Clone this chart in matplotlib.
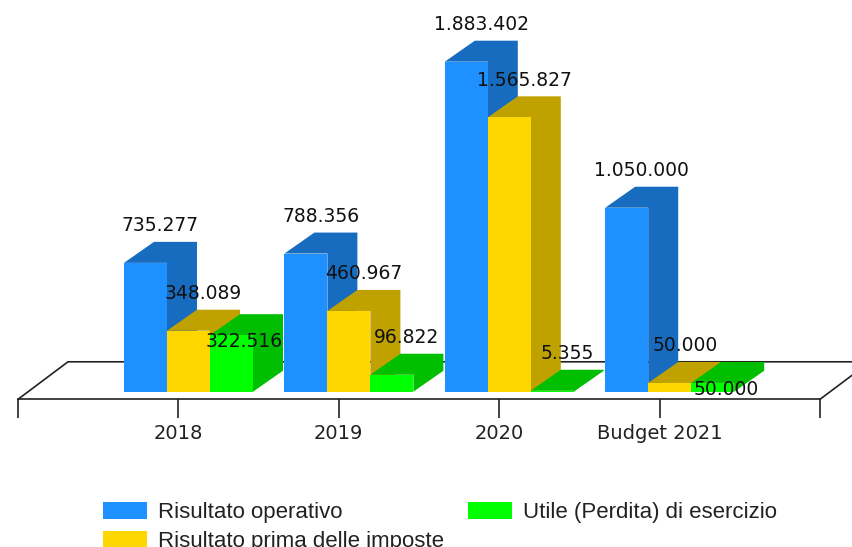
import matplotlib
matplotlib.use('Agg')
import matplotlib.pyplot as plt
from matplotlib.patches import Polygon, Patch

categories = ['2018', '2019', '2020', 'Budget 2021']
operativo = [735277, 788356, 1883402, 1050000]
ante_imposte = [348089, 460967, 1565827, 50000]
utile = [322516, 96822, 5355, 50000]
labels_serie = ['Risultato operativo', 'Risultato prima delle imposte', 'Utile (Perdita) di esercizio']
fronts = ['#1E90FF', '#FFD700', '#00FF00']
sides = ['#176CBF', '#BFA100', '#00BF00']

W, H = 852, 547
px_u = 160.4      # pixels per category
px_v = 1 / 5707   # pixels per unit of value
base_py = 391.7

def du(px):
    return px / px_u

def dv(px):
    return px / px_v

fig = plt.figure(figsize=(W / 100, H / 100), dpi=100)
ax = fig.add_axes([0, 0, 1, 1])
ax.set_xlim(du(-18), du(W - 18))
ax.set_ylim(dv(base_py - H), dv(base_py))
ax.patch.set_alpha(0)

for s in ['top', 'left', 'right']:
    ax.spines[s].set_visible(False)
ax.set_yticks([])

# floor of the chart
line_col = '#222222'
axis_y = dv(base_py - 399.3)
ax.spines['bottom'].set_position(('data', axis_y))
ax.spines['bottom'].set_bounds(0, 5)
ax.spines['bottom'].set_color(line_col)
ax.spines['bottom'].set_linewidth(1.2)
ax.spines['bottom'].set_zorder(1)
ax.set_xticks(range(6), [''] + categories + [''])
ax.tick_params(axis='x', length=13.7, width=1.2, color=line_col, pad=4, labelsize=14, labelcolor='#222222')

floor_dx, floor_dy = du(50), dv(37.5)
ax.plot([0, floor_dx, 5 + floor_dx, 5], [axis_y, axis_y + floor_dy, axis_y + floor_dy, axis_y],
        color=line_col, lw=1.2, zorder=1)

# bars with their 3d faces, top and side share one outline
bar_w = du(43)
depth_x, depth_y = du(30), dv(21)
start = du(-54.4)
series = [operativo, ante_imposte, utile]
for i in range(len(categories)):
    for j, vals in enumerate(series):
        v = vals[i]
        x0 = i + 1 + start + j * bar_w
        x1 = x0 + bar_w
        z = 2 + i + j * 0.1
        ax.add_patch(Polygon([(x1, 0), (x1 + depth_x, depth_y), (x1 + depth_x, v + depth_y),
                              (x0 + depth_x, v + depth_y), (x0, v), (x1, v)],
                             fc=sides[j], ec='none', zorder=z))
        ax.bar(x0, v, width=bar_w, align='edge', color=fronts[j], zorder=z)

# value labels on top of everything
for i in range(len(categories)):
    for j, vals in enumerate(series):
        v = vals[i]
        x = i + 1 + start + j * bar_w + (bar_w + depth_x) / 2
        y = v + depth_y + dv(16)
        if j == 2 and i in (0, 3):
            # these two labels sit down on the bar
            x -= du(2)
            y = v - dv(6.5)
        txt = f'{v:,}'.replace(',', '.')
        ax.text(x, y, txt, ha='center', va='center', fontsize=13.5, color='#111111', zorder=20)

handles = [Patch(fc=c, ec='none') for c in fronts]
fig.legend(handles, labels_serie, loc='upper left', bbox_to_anchor=(83 / W, 1 - 482 / H), ncol=2,
           frameon=False, prop={'family': 'Liberation Sans', 'size': 16},
           handlelength=1.98, handleheight=0.8, handletextpad=0.5, labelspacing=0.36,
           columnspacing=1.07, labelcolor='#222222')

fig.savefig('out.png', dpi=100)
